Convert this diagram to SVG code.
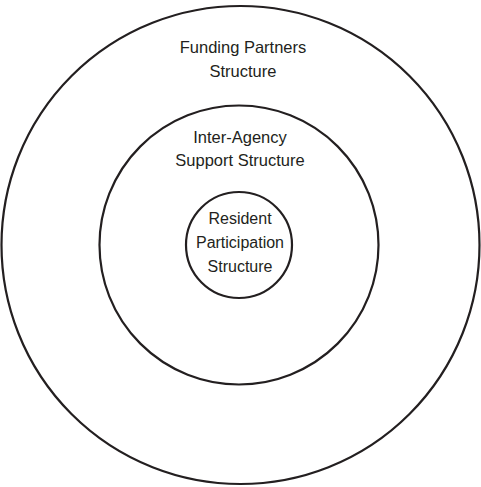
<svg xmlns="http://www.w3.org/2000/svg" width="481" height="487" viewBox="0 0 481 487">
<style>
.ring{fill:none;stroke:#231f20;stroke-width:2.2}
.lbl{font-family:"Liberation Sans",Arial,sans-serif;font-size:16.5px;fill:#231f20;text-anchor:middle}
.sm{font-size:16px}
</style>
<rect width="481" height="487" fill="#fff"/>
<g id="funding-partners">
<circle class="ring" cx="240.5" cy="245" r="239"/>
<text class="lbl" x="243" y="53">Funding Partners</text>
<text class="lbl" x="243" y="77">Structure</text>
</g>
<g id="inter-agency">
<circle class="ring" cx="239" cy="245" r="139.5"/>
<text class="lbl" x="240" y="143">Inter-Agency</text>
<text class="lbl" x="240" y="166">Support Structure</text>
</g>
<g id="resident-participation">
<circle class="ring" cx="239" cy="245" r="53"/>
<text class="lbl sm" x="240" y="224">Resident</text>
<text class="lbl sm" x="240" y="248">Participation</text>
<text class="lbl sm" x="240" y="272">Structure</text>
</g>
<g id="connectors"></g>
</svg>
